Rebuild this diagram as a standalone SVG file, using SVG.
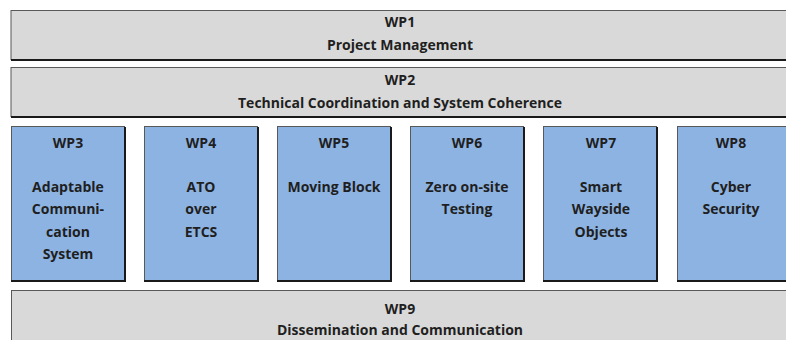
<svg xmlns="http://www.w3.org/2000/svg" width="786" height="340" viewBox="0 0 786 340">
<style>
.g{fill:#d9d9d9;stroke:#595959;stroke-width:1}
.b{fill:#8db3e2;stroke:#595959;stroke-width:1}
.sh{fill:none;stroke:#1a1a1a;stroke-width:2}
text{font-family:"Open Sans","Liberation Sans",sans-serif;font-weight:700;font-size:14px;fill:#1f1f1f;text-anchor:middle}
</style>
<rect width="786" height="340" fill="#ffffff"/>
<g id="wp1">
<rect class="g" x="11" y="10.5" width="790" height="49"/>
<path class="sh" d="M11 60 H801"/>
<text x="400" y="27">WP1</text>
<text x="400" y="50">Project Management</text>
</g>
<g id="wp2">
<rect class="g" x="11" y="67.5" width="790" height="49"/>
<path class="sh" d="M11 117 H801"/>
<text x="400" y="85">WP2</text>
<text x="400" y="108">Technical Coordination and System Coherence</text>
</g>
<g id="wp3">
<rect class="b" x="11.5" y="126.5" width="113" height="154"/>
<path class="sh" d="M125 127 V281 H11"/>
<text x="68" y="148">WP3</text>
<text x="68" y="192">Adaptable</text>
<text x="68" y="214">Communi-</text>
<text x="68" y="237">cation</text>
<text x="68" y="259">System</text>
</g>
<g id="wp4">
<rect class="b" x="144.5" y="126.5" width="113" height="154"/>
<path class="sh" d="M258 127 V281 H144"/>
<text x="201" y="148">WP4</text>
<text x="201" y="192">ATO</text>
<text x="201" y="214">over</text>
<text x="201" y="237">ETCS</text>
</g>
<g id="wp5">
<rect class="b" x="277.5" y="126.5" width="113" height="154"/>
<path class="sh" d="M391 127 V281 H277"/>
<text x="334" y="148">WP5</text>
<text x="334" y="192">Moving Block</text>
</g>
<g id="wp6">
<rect class="b" x="410.5" y="126.5" width="113" height="154"/>
<path class="sh" d="M524 127 V281 H410"/>
<text x="467" y="148">WP6</text>
<text x="467" y="192">Zero on-site</text>
<text x="467" y="214">Testing</text>
</g>
<g id="wp7">
<rect class="b" x="543.5" y="126.5" width="113" height="154"/>
<path class="sh" d="M657 127 V281 H543"/>
<text x="601" y="148">WP7</text>
<text x="601" y="192">Smart</text>
<text x="601" y="214">Wayside</text>
<text x="601" y="237">Objects</text>
</g>
<g id="wp8">
<rect class="b" x="677.5" y="126.5" width="113" height="154"/>
<path class="sh" d="M791 127 V281 H677"/>
<text x="731" y="148">WP8</text>
<text x="731" y="192">Cyber</text>
<text x="731" y="214">Security</text>
</g>
<g id="wp9">
<rect class="g" x="11.5" y="290.5" width="790" height="60"/>
<text x="400" y="314">WP9</text>
<text x="400" y="335">Dissemination and Communication</text>
</g>
<g id="connectors"></g>
</svg>
